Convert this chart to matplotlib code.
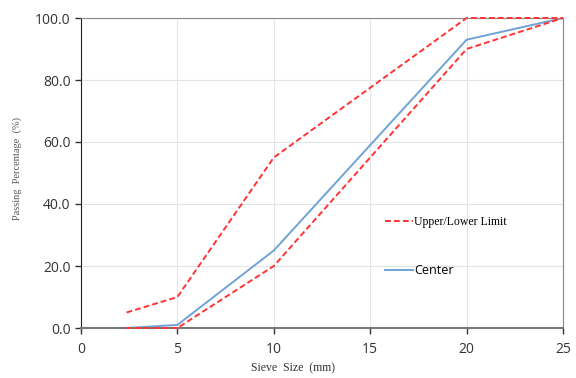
import matplotlib
matplotlib.use('Agg')
import matplotlib.pyplot as plt

sieve = [2.36, 5, 10, 20, 25]
upper = [5, 10, 55, 100, 100]
lower = [0, 0, 20, 90, 100]
center = [0, 1, 25, 93, 100]

fig = plt.figure(figsize=(5.76, 3.78), dpi=100)
ax = fig.add_axes([81/576, 1 - 328/378, 482/576, 310/378])

red = '#ff3333'
blue = '#6fa3d6'
ax.plot(sieve, upper, color=red, ls=(0, (3, 1.6)), lw=1.4, label='Upper/Lower Limit',
        clip_on=False, zorder=3)
ax.plot(sieve, lower, color=red, ls=(0, (3, 1.6)), lw=1.4, clip_on=False, zorder=3)
ax.plot(sieve, center, color=blue, lw=1.4, label='Center')

ax.set_xlim(0, 25)
ax.set_ylim(0, 100)
ax.set_xticks([0, 5, 10, 15, 20, 25])
ax.set_yticks([0, 20, 40, 60, 80, 100])
ax.set_yticklabels(['%.1f' % v for v in [0, 20, 40, 60, 80, 100]])
ax.grid(True, color='#e4e4e4', lw=0.8)
ax.set_axisbelow(True)

for s in ['top', 'right']:
    ax.spines[s].set_color('#888888')
ax.spines['left'].set_color('#222222')
ax.spines['bottom'].set_color('#777777')
ax.spines['bottom'].set_linewidth(1.5)
ax.tick_params(axis='both', labelsize=10, colors='#333333', length=4, width=1)
ax.tick_params(axis='x', pad=6)
for t in ax.get_xticklabels() + ax.get_yticklabels():
    t.set_fontfamily('Open Sans')

# axis titles sit off-centre in the original
fig.text(293/576, 1 - 368/378, 'Sieve  Size  (mm)', family='Liberation Serif', fontsize=8.5,
         color='#333333', ha='center', va='center')
fig.text(17/576, 1 - 168/378, 'Passing  Percentage  (%)', family='Liberation Serif', fontsize=7.5,
         color='#555555', ha='center', va='center', rotation=90)

leg = ax.legend(loc='upper left', bbox_to_anchor=(0.608, 0.397), frameon=False,
                handlelength=2.2, handletextpad=0.1, labelspacing=2.9, fontsize=9)
leg.get_texts()[0].set_fontfamily('Liberation Serif')
leg.get_texts()[0].set_fontsize(8.5)
leg.get_texts()[1].set_fontfamily('Open Sans')

fig.savefig('out.png', dpi=100)
